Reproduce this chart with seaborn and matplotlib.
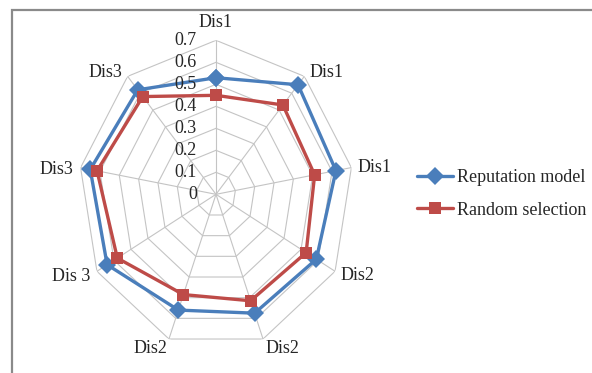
import numpy as np
import pandas as pd
import seaborn as sns
import matplotlib.pyplot as plt
from matplotlib.patches import Rectangle

# axis labels clockwise from the top
labels = ["Dis1", "Dis1", "Dis1", "Dis2", "Dis2", "Dis2", "Dis 3", "Dis3", "Dis3"]
reputation = [0.53, 0.65, 0.62, 0.59, 0.575, 0.56, 0.64, 0.65, 0.62]
random_sel = [0.45, 0.53, 0.51, 0.53, 0.515, 0.485, 0.58, 0.615, 0.58]
r_ticks = [0, 0.1, 0.2, 0.3, 0.4, 0.5, 0.6, 0.7]
r_tick_labels = ["0", "0.1", "0.2", "0.3", "0.4", "0.5", "0.6", "0.7"]

sns.set_theme(style="white")
plt.rcParams["font.family"] = ["Liberation Serif", "DejaVu Serif"]

n = len(labels)
angles = np.linspace(0, 2 * np.pi, n, endpoint=False)
angles_closed = np.append(angles, 2 * np.pi)

rows = []
for name, vals in [("Reputation model", reputation), ("Random selection", random_sel)]:
    closed = list(vals) + [vals[0]]
    for a, v in zip(angles_closed, closed):
        rows.append({"theta": a, "value": v, "series": name})
df = pd.DataFrame(rows)

fig = plt.figure(figsize=(5.92, 3.73), dpi=100)
# outer frame (only top/left edges visible in the original)
fig.patches.append(Rectangle((12 / 592, -0.1), 1.2, 1.1 - 10 / 373 + 0.0,
                             transform=fig.transFigure, fill=False,
                             edgecolor="#8a8a8a", linewidth=1.6))

ax = fig.add_axes([0.1326, 0.0662, 0.4645, 0.8257], projection="polar")
ax.set_aspect("auto")
ax.set_theta_zero_location("N")
ax.set_theta_direction(-1)
ax.set_ylim(0, 0.7)
ax.set_yticks([])
ax.set_xticks(angles)
ax.set_xticklabels([])
ax.xaxis.grid(True, color="#c4c4c4", linewidth=0.8)
ax.spines["polar"].set_visible(False)
ax.patch.set_alpha(0)

# polygon rings
for r in r_ticks[1:]:
    ax.plot(angles_closed, [r] * len(angles_closed), color="#c4c4c4",
            linewidth=0.8, zorder=1)

sns.lineplot(data=df, x="theta", y="value", hue="series", style="series",
             markers={"Reputation model": "D", "Random selection": "s"},
             dashes=False, palette={"Reputation model": "#4A7EBB",
                                    "Random selection": "#BE4B48"},
             markersize=9, linewidth=2.4, markeredgewidth=0, sort=False,
             ax=ax, legend=True, zorder=3)
ax.set_xlabel("")
ax.set_ylabel("")
handles, leg_labels = ax.get_legend_handles_labels()
ax.get_legend().remove()
for h in handles:
    h.set_markeredgewidth(0)

# category labels
offsets = [(0, 9, "center", "bottom"), (5, 4, "left", "center"),
           (6, 0, "left", "center"), (5, -4, "left", "center"),
           (2, -1, "left", "top"), (-2, -1, "right", "top"),
           (-7, -5, "right", "center"), (-7, -2, "right", "center"),
           (-5, 4, "right", "center")]
for a, lab, (dx, dy, ha, va) in zip(angles, labels, offsets):
    ax.annotate(lab, xy=(a, 0.7), xytext=(dx, dy), textcoords="offset pixels",
                ha=ha, va=va, fontsize=13, annotation_clip=False)

# radial tick labels along the top axis
for r, t in zip(r_ticks, r_tick_labels):
    ax.annotate(t, xy=(0, r), xytext=(-19, 0), textcoords="offset pixels",
                ha="right", va="center", fontsize=13, annotation_clip=False)

fig.legend(handles, leg_labels, loc="center left",
           bbox_to_anchor=(417 / 592, 0.48), frameon=False, fontsize=13,
           handlelength=2.0, handletextpad=0.2, labelspacing=0.85,
           borderpad=0, borderaxespad=0)

fig.savefig("out.png", dpi=100)
